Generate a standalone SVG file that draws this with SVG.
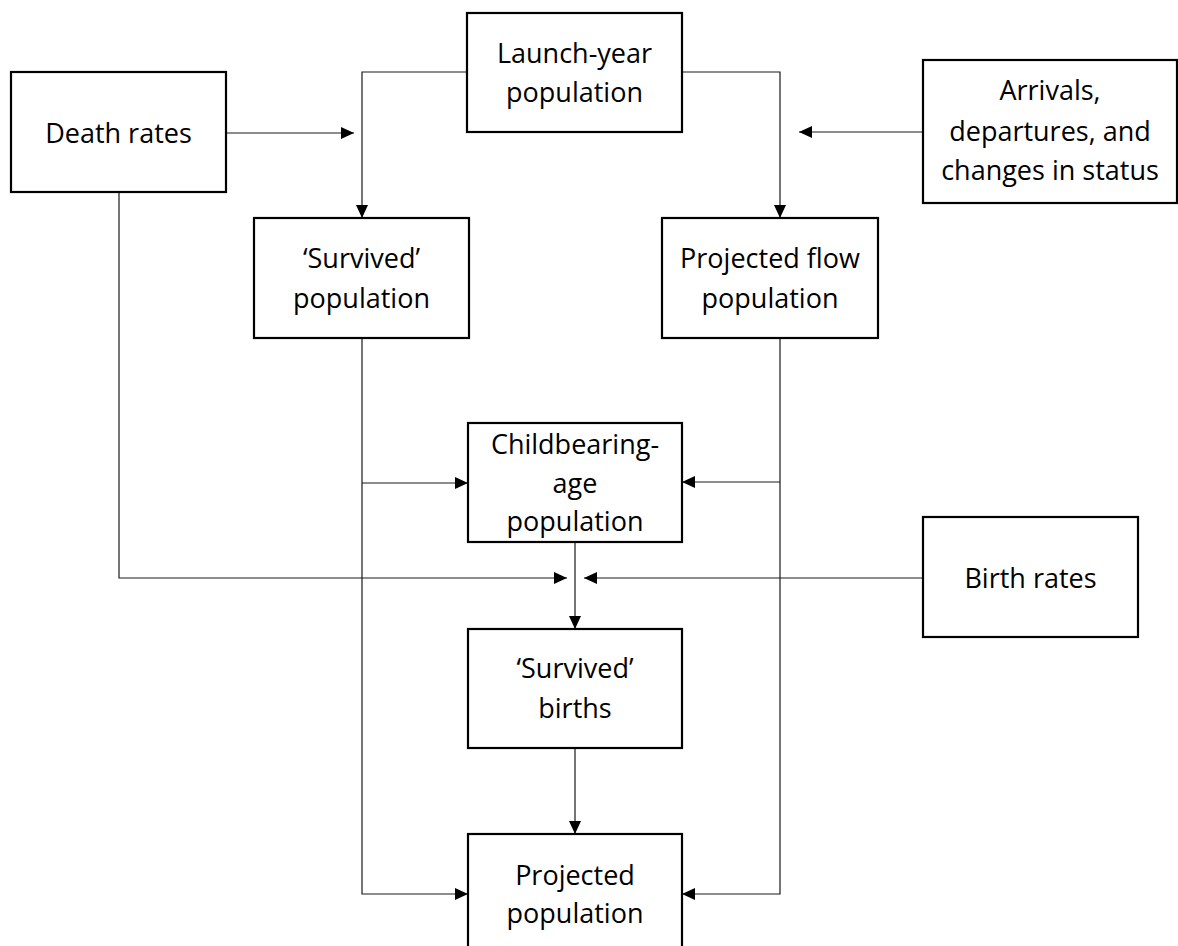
<svg xmlns="http://www.w3.org/2000/svg" width="1178" height="946" viewBox="0 0 1178 946">
<style>
.box{fill:#fff;stroke:#000;stroke-width:2.2}
.t{font-family:"Open Sans","Noto Sans","DejaVu Sans",sans-serif;font-size:27px;fill:#000;text-anchor:middle}
.c{fill:none;stroke:#1a1a1a;stroke-width:1.2}
</style>
<defs>
<marker id="ah" markerUnits="userSpaceOnUse" markerWidth="13" markerHeight="12" refX="13" refY="6" orient="auto">
<path d="M0,0 L13,6 L0,12 z" fill="#000"/>
</marker>
</defs>
<rect width="1178" height="946" fill="#fff"/>
<g id="connectors">
<path class="c" d="M226,133 H354" marker-end="url(#ah)"/>
<path class="c" d="M467,72 H362 V218" marker-end="url(#ah)"/>
<path class="c" d="M682,72 H780 V218" marker-end="url(#ah)"/>
<path class="c" d="M923,132 H799" marker-end="url(#ah)"/>
<path class="c" d="M362,338 V894 H468" marker-end="url(#ah)"/>
<path class="c" d="M362,483 H468" marker-end="url(#ah)"/>
<path class="c" d="M780,338 V894 H682" marker-end="url(#ah)"/>
<path class="c" d="M780,482 H682" marker-end="url(#ah)"/>
<path class="c" d="M119,192 V578 H567" marker-end="url(#ah)"/>
<path class="c" d="M923,578 H584" marker-end="url(#ah)"/>
<path class="c" d="M575,542 V629" marker-end="url(#ah)"/>
<path class="c" d="M575,748 V834" marker-end="url(#ah)"/>
</g>
<g id="death-rates">
<rect class="box" x="11" y="72" width="215" height="120"/>
<text class="t" x="118.5" y="143">Death rates</text>
</g>
<g id="launch-year-population">
<rect class="box" x="467" y="13" width="215" height="119"/>
<text class="t" x="574.5" y="63">Launch-year</text>
<text class="t" x="574.5" y="102">population</text>
</g>
<g id="arrivals">
<rect class="box" x="923" y="60" width="254" height="143"/>
<text class="t" x="1050" y="100">Arrivals,</text>
<text class="t" x="1050" y="141">departures, and</text>
<text class="t" x="1050" y="180">changes in status</text>
</g>
<g id="survived-population">
<rect class="box" x="254" y="218" width="215" height="120"/>
<text class="t" x="361.5" y="268">‘Survived’</text>
<text class="t" x="361.5" y="308">population</text>
</g>
<g id="projected-flow-population">
<rect class="box" x="662" y="218" width="216" height="120"/>
<text class="t" x="770" y="268">Projected flow</text>
<text class="t" x="770" y="308">population</text>
</g>
<g id="childbearing-age-population">
<rect class="box" x="468" y="423" width="214" height="119"/>
<text class="t" x="575" y="454">Childbearing-</text>
<text class="t" x="575" y="493">age</text>
<text class="t" x="575" y="531">population</text>
</g>
<g id="birth-rates">
<rect class="box" x="923" y="517" width="215" height="120"/>
<text class="t" x="1030.5" y="588">Birth rates</text>
</g>
<g id="survived-births">
<rect class="box" x="468" y="629" width="214" height="119"/>
<text class="t" x="575" y="678">‘Survived’</text>
<text class="t" x="575" y="718">births</text>
</g>
<g id="projected-population">
<rect class="box" x="468" y="834" width="214" height="130"/>
<text class="t" x="575" y="885">Projected</text>
<text class="t" x="575" y="923">population</text>
</g>
</svg>
